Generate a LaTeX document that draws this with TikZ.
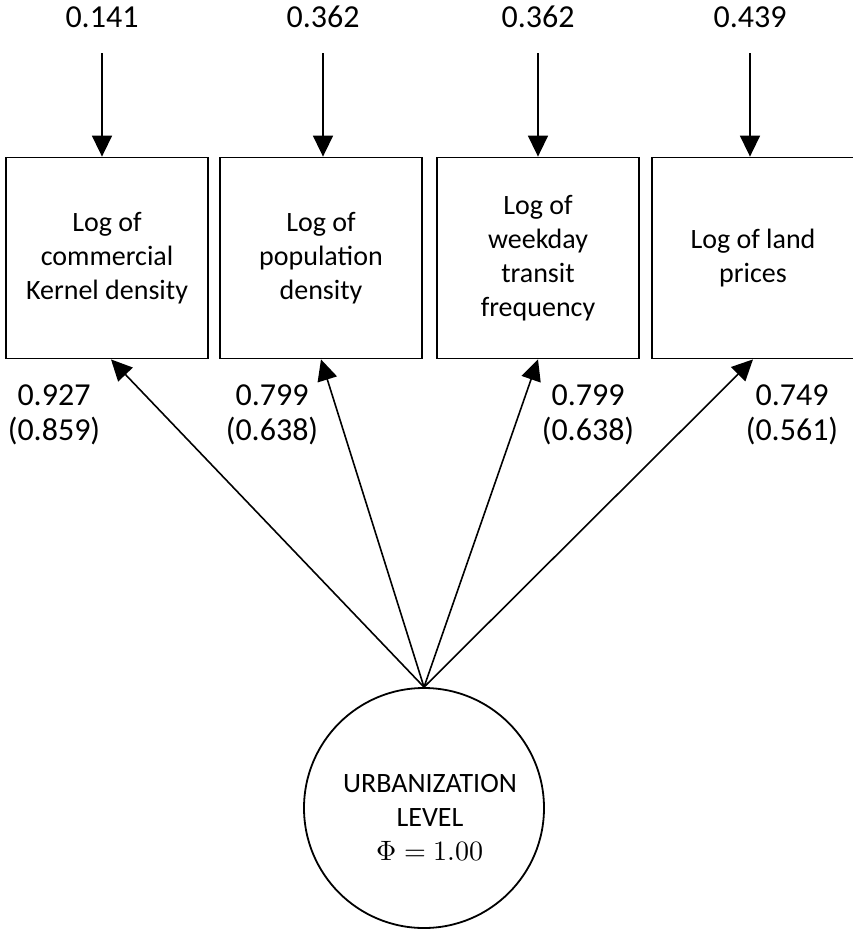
\documentclass[tikz,border=0pt]{standalone}
\usepackage{fontspec}
\usepackage{unicode-math}
\setmainfont{Carlito}
\setmathfont{Latin Modern Math}
\usetikzlibrary{arrows.meta}
\begin{document}
\begin{tikzpicture}[x=1pt,y=-1pt,
  box/.style={draw,line width=1.8pt,minimum width=202pt,minimum height=201pt,inner sep=0pt,align=center,
    font=\fontsize{28}{34}\selectfont},
  lab/.style={align=center,inner sep=0pt,font=\fontsize{32}{35}\selectfont},
  circ/.style={draw,circle,line width=1.8pt,minimum size=240pt,inner sep=0pt},
  arr/.style={line width=1.6pt,-{Triangle[length=21pt,width=20pt]}}]
\useasboundingbox (0,0) rectangle (852,932);

% indicator boxes
\node[box] (b1) at (107,258) {Log of\\commercial\\Kernel density};
\node[box] (b2) at (321,258) {Log of\\population\\density};
\node[box] (b3) at (538,258) {Log of\\weekday\\transit\\frequency};
\node[box] (b4) at (753,258) {Log of land\\prices};

% error variances
\node[lab] (e1) at (102,17) {0.141};
\node[lab] (e2) at (323,17) {0.362};
\node[lab] (e3) at (538,17) {0.362};
\node[lab] (e4) at (750,17) {0.439};
\coordinate (t1) at (102,53);
\coordinate (t2) at (323,53);
\coordinate (t3) at (538,53);
\coordinate (t4) at (750,53);
\draw[arr] (t1) -- (t1 |- b1.north);
\draw[arr] (t2) -- (t2 |- b2.north);
\draw[arr] (t3) -- (t3 |- b3.north);
\draw[arr] (t4) -- (t4 |- b4.north);

% latent factor
\node[circ] (c) at (424,808) {};
\node[align=center,inner sep=0pt,font=\fontsize{28}{34}\selectfont] (ct) at (430,818)
  {URBANIZATION\\LEVEL\\$\Phi = 1.00$};

% loadings
\draw[arr] (c.north) -- ([xshift=4pt]b1.south);
\draw[arr] (c.north) -- (b2.south);
\draw[arr] (c.north) -- (b3.south);
\draw[arr] (c.north) -- (b4.south);

\node[lab] (l1) at (54,415) {0.927\\(0.859)};
\node[lab] (l2) at (272,415) {0.799\\(0.638)};
\node[lab] (l3) at (588,415) {0.799\\(0.638)};
\node[lab] (l4) at (792,415) {0.749\\(0.561)};
\end{tikzpicture}
\end{document}
